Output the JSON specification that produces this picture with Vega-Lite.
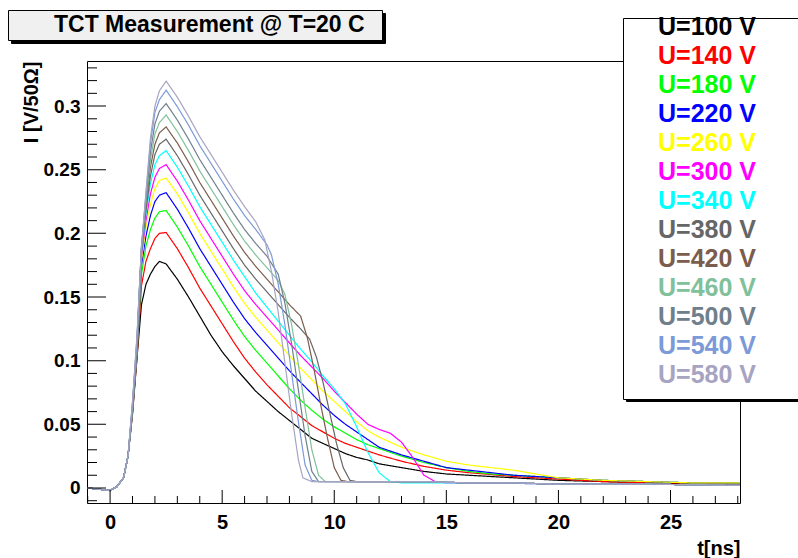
{
"$schema":"https://vega.github.io/schema/vega-lite/v6.json",
"width":653,"height":442,
"autosize":{"type":"none"},
"padding":{"left":87,"top":61,"right":58,"bottom":55},
"background":"white",
"config":{"view":{"stroke":"black","strokeWidth":1},"font":"Liberation Sans"},
"data":{"values":[
{"V":100,"t":-1,"I":0},{"V":100,"t":-0.5,"I":-0.001},{"V":100,"t":0,"I":-0.002},{"V":100,"t":0.3,"I":0.001},{"V":100,"t":0.6,"I":0.008},{"V":100,"t":0.8,"I":0.025},{"V":100,"t":1,"I":0.058},{"V":100,"t":1.2,"I":0.102},{"V":100,"t":1.4,"I":0.144},{"V":100,"t":1.6,"I":0.16},{"V":100,"t":1.8,"I":0.168},{"V":100,"t":2,"I":0.174},{"V":100,"t":2.2,"I":0.178},{"V":100,"t":2.5,"I":0.176},{"V":100,"t":3,"I":0.164},{"V":100,"t":3.5,"I":0.15},{"V":100,"t":4,"I":0.135},{"V":100,"t":4.5,"I":0.12},{"V":100,"t":5,"I":0.107},{"V":100,"t":5.5,"I":0.096},{"V":100,"t":6,"I":0.086},{"V":100,"t":6.5,"I":0.076},{"V":100,"t":7,"I":0.068},{"V":100,"t":7.5,"I":0.06},{"V":100,"t":8,"I":0.053},{"V":100,"t":8.5,"I":0.046},{"V":100,"t":9,"I":0.039},{"V":100,"t":9.5,"I":0.035},{"V":100,"t":10,"I":0.031},{"V":100,"t":10.5,"I":0.027},{"V":100,"t":11,"I":0.024},{"V":100,"t":11.5,"I":0.022},{"V":100,"t":12,"I":0.019},{"V":100,"t":13,"I":0.016},{"V":100,"t":14,"I":0.013},{"V":100,"t":15,"I":0.011},{"V":100,"t":16,"I":0.01},{"V":100,"t":18,"I":0.008},{"V":100,"t":20,"I":0.006},{"V":100,"t":22,"I":0.005},{"V":100,"t":24,"I":0.004},{"V":100,"t":26,"I":0.003},{"V":100,"t":28.1,"I":0.003},
{"V":140,"t":-1,"I":0},{"V":140,"t":-0.5,"I":-0.001},{"V":140,"t":0,"I":-0.002},{"V":140,"t":0.3,"I":0.001},{"V":140,"t":0.6,"I":0.008},{"V":140,"t":0.8,"I":0.025},{"V":140,"t":1,"I":0.059},{"V":140,"t":1.2,"I":0.103},{"V":140,"t":1.4,"I":0.159},{"V":140,"t":1.6,"I":0.178},{"V":140,"t":1.8,"I":0.188},{"V":140,"t":2,"I":0.196},{"V":140,"t":2.2,"I":0.2},{"V":140,"t":2.5,"I":0.2007},{"V":140,"t":3,"I":0.188},{"V":140,"t":3.5,"I":0.173},{"V":140,"t":4,"I":0.157},{"V":140,"t":4.5,"I":0.143},{"V":140,"t":5,"I":0.129},{"V":140,"t":5.5,"I":0.115},{"V":140,"t":6,"I":0.102},{"V":140,"t":6.5,"I":0.091},{"V":140,"t":7,"I":0.081},{"V":140,"t":7.5,"I":0.072},{"V":140,"t":8,"I":0.063},{"V":140,"t":8.5,"I":0.056},{"V":140,"t":9,"I":0.049},{"V":140,"t":9.5,"I":0.044},{"V":140,"t":10,"I":0.039},{"V":140,"t":10.5,"I":0.035},{"V":140,"t":11,"I":0.032},{"V":140,"t":11.5,"I":0.029},{"V":140,"t":12,"I":0.026},{"V":140,"t":13,"I":0.021},{"V":140,"t":14,"I":0.017},{"V":140,"t":15,"I":0.014},{"V":140,"t":16,"I":0.012},{"V":140,"t":18,"I":0.009},{"V":140,"t":20,"I":0.007},{"V":140,"t":22,"I":0.005},{"V":140,"t":24,"I":0.004},{"V":140,"t":26,"I":0.004},{"V":140,"t":28.1,"I":0.003},
{"V":180,"t":-1,"I":0},{"V":180,"t":-0.5,"I":-0.001},{"V":180,"t":0,"I":-0.002},{"V":180,"t":0.3,"I":0.001},{"V":180,"t":0.6,"I":0.008},{"V":180,"t":0.8,"I":0.025},{"V":180,"t":1,"I":0.06},{"V":180,"t":1.2,"I":0.105},{"V":180,"t":1.4,"I":0.168},{"V":180,"t":1.6,"I":0.19},{"V":180,"t":1.8,"I":0.203},{"V":180,"t":2,"I":0.212},{"V":180,"t":2.2,"I":0.217},{"V":180,"t":2.5,"I":0.218},{"V":180,"t":3,"I":0.205},{"V":180,"t":3.5,"I":0.19},{"V":180,"t":4,"I":0.174},{"V":180,"t":4.5,"I":0.16},{"V":180,"t":5,"I":0.146},{"V":180,"t":5.5,"I":0.132},{"V":180,"t":6,"I":0.119},{"V":180,"t":6.5,"I":0.108},{"V":180,"t":7,"I":0.098},{"V":180,"t":7.5,"I":0.088},{"V":180,"t":8,"I":0.078},{"V":180,"t":8.5,"I":0.069},{"V":180,"t":9,"I":0.061},{"V":180,"t":9.5,"I":0.054},{"V":180,"t":10,"I":0.048},{"V":180,"t":10.5,"I":0.043},{"V":180,"t":11,"I":0.038},{"V":180,"t":11.5,"I":0.034},{"V":180,"t":12,"I":0.031},{"V":180,"t":13,"I":0.025},{"V":180,"t":14,"I":0.02},{"V":180,"t":15,"I":0.016},{"V":180,"t":16,"I":0.013},{"V":180,"t":17,"I":0.011},{"V":180,"t":18,"I":0.01},{"V":180,"t":20,"I":0.008},{"V":180,"t":22,"I":0.006},{"V":180,"t":24,"I":0.005},{"V":180,"t":26,"I":0.004},{"V":180,"t":28.1,"I":0.004},
{"V":220,"t":-1,"I":0},{"V":220,"t":-0.5,"I":-0.001},{"V":220,"t":0,"I":-0.002},{"V":220,"t":0.3,"I":0.001},{"V":220,"t":0.6,"I":0.008},{"V":220,"t":0.8,"I":0.025},{"V":220,"t":1,"I":0.06},{"V":220,"t":1.2,"I":0.106},{"V":220,"t":1.4,"I":0.175},{"V":220,"t":1.6,"I":0.198},{"V":220,"t":1.8,"I":0.214},{"V":220,"t":2,"I":0.225},{"V":220,"t":2.2,"I":0.23},{"V":220,"t":2.5,"I":0.232},{"V":220,"t":3,"I":0.219},{"V":220,"t":3.5,"I":0.204},{"V":220,"t":4,"I":0.188},{"V":220,"t":4.5,"I":0.174},{"V":220,"t":5,"I":0.16},{"V":220,"t":5.5,"I":0.146},{"V":220,"t":6,"I":0.133},{"V":220,"t":6.5,"I":0.122},{"V":220,"t":7,"I":0.112},{"V":220,"t":7.5,"I":0.102},{"V":220,"t":8,"I":0.092},{"V":220,"t":8.5,"I":0.083},{"V":220,"t":9,"I":0.074},{"V":220,"t":9.5,"I":0.065},{"V":220,"t":10,"I":0.057},{"V":220,"t":10.5,"I":0.05},{"V":220,"t":11,"I":0.044},{"V":220,"t":11.5,"I":0.038},{"V":220,"t":12,"I":0.032},{"V":220,"t":12.5,"I":0.029},{"V":220,"t":13,"I":0.026},{"V":220,"t":14,"I":0.021},{"V":220,"t":15,"I":0.016},{"V":220,"t":16,"I":0.014},{"V":220,"t":17,"I":0.012},{"V":220,"t":18,"I":0.01},{"V":220,"t":20,"I":0.008},{"V":220,"t":22,"I":0.006},{"V":220,"t":24,"I":0.005},{"V":220,"t":26,"I":0.004},{"V":220,"t":28.1,"I":0.004},
{"V":260,"t":-1,"I":0},{"V":260,"t":-0.5,"I":-0.001},{"V":260,"t":0,"I":-0.002},{"V":260,"t":0.3,"I":0.001},{"V":260,"t":0.6,"I":0.008},{"V":260,"t":0.8,"I":0.025},{"V":260,"t":1,"I":0.061},{"V":260,"t":1.2,"I":0.108},{"V":260,"t":1.4,"I":0.179},{"V":260,"t":1.6,"I":0.205},{"V":260,"t":1.8,"I":0.223},{"V":260,"t":2,"I":0.235},{"V":260,"t":2.2,"I":0.2415},{"V":260,"t":2.5,"I":0.2435},{"V":260,"t":3,"I":0.231},{"V":260,"t":3.5,"I":0.216},{"V":260,"t":4,"I":0.2},{"V":260,"t":4.5,"I":0.186},{"V":260,"t":5,"I":0.172},{"V":260,"t":5.5,"I":0.158},{"V":260,"t":6,"I":0.145},{"V":260,"t":6.5,"I":0.134},{"V":260,"t":7,"I":0.124},{"V":260,"t":7.5,"I":0.114},{"V":260,"t":8,"I":0.104},{"V":260,"t":8.5,"I":0.094},{"V":260,"t":9,"I":0.085},{"V":260,"t":9.5,"I":0.076},{"V":260,"t":10,"I":0.068},{"V":260,"t":10.5,"I":0.06},{"V":260,"t":11,"I":0.052},{"V":260,"t":11.5,"I":0.045},{"V":260,"t":12,"I":0.04},{"V":260,"t":12.5,"I":0.036},{"V":260,"t":13,"I":0.032},{"V":260,"t":14,"I":0.026},{"V":260,"t":15,"I":0.021},{"V":260,"t":16,"I":0.018},{"V":260,"t":17,"I":0.016},{"V":260,"t":18,"I":0.014},{"V":260,"t":19,"I":0.011},{"V":260,"t":20,"I":0.008},{"V":260,"t":22,"I":0.006},{"V":260,"t":24,"I":0.005},{"V":260,"t":26,"I":0.004},{"V":260,"t":28.1,"I":0.004},
{"V":300,"t":-1,"I":0},{"V":300,"t":-0.5,"I":-0.001},{"V":300,"t":0,"I":-0.002},{"V":300,"t":0.3,"I":0.001},{"V":300,"t":0.6,"I":0.008},{"V":300,"t":0.8,"I":0.025},{"V":300,"t":1,"I":0.062},{"V":300,"t":1.2,"I":0.109},{"V":300,"t":1.4,"I":0.182},{"V":300,"t":1.6,"I":0.21},{"V":300,"t":1.8,"I":0.231},{"V":300,"t":2,"I":0.244},{"V":300,"t":2.2,"I":0.251},{"V":300,"t":2.5,"I":0.254},{"V":300,"t":3,"I":0.241},{"V":300,"t":3.5,"I":0.226},{"V":300,"t":4,"I":0.21},{"V":300,"t":4.5,"I":0.196},{"V":300,"t":5,"I":0.182},{"V":300,"t":5.5,"I":0.168},{"V":300,"t":6,"I":0.155},{"V":300,"t":6.5,"I":0.144},{"V":300,"t":7,"I":0.134},{"V":300,"t":7.5,"I":0.124},{"V":300,"t":8,"I":0.114},{"V":300,"t":8.5,"I":0.104},{"V":300,"t":9,"I":0.095},{"V":300,"t":9.5,"I":0.086},{"V":300,"t":10,"I":0.076},{"V":300,"t":10.5,"I":0.067},{"V":300,"t":11,"I":0.058},{"V":300,"t":11.5,"I":0.05},{"V":300,"t":12,"I":0.046},{"V":300,"t":12.5,"I":0.043},{"V":300,"t":13,"I":0.036},{"V":300,"t":13.5,"I":0.024},{"V":300,"t":14,"I":0.01},{"V":300,"t":14.5,"I":0.005},{"V":300,"t":15,"I":0.004},{"V":300,"t":17,"I":0.004},{"V":300,"t":20,"I":0.003},{"V":300,"t":24,"I":0.003},{"V":300,"t":28.1,"I":0.002},
{"V":340,"t":-1,"I":0},{"V":340,"t":-0.5,"I":-0.001},{"V":340,"t":0,"I":-0.002},{"V":340,"t":0.3,"I":0.001},{"V":340,"t":0.6,"I":0.008},{"V":340,"t":0.8,"I":0.025},{"V":340,"t":1,"I":0.063},{"V":340,"t":1.2,"I":0.111},{"V":340,"t":1.4,"I":0.185},{"V":340,"t":1.6,"I":0.215},{"V":340,"t":1.8,"I":0.239},{"V":340,"t":2,"I":0.254},{"V":340,"t":2.2,"I":0.261},{"V":340,"t":2.5,"I":0.265},{"V":340,"t":3,"I":0.252},{"V":340,"t":3.5,"I":0.237},{"V":340,"t":4,"I":0.221},{"V":340,"t":4.5,"I":0.207},{"V":340,"t":5,"I":0.193},{"V":340,"t":5.5,"I":0.179},{"V":340,"t":6,"I":0.166},{"V":340,"t":6.5,"I":0.153},{"V":340,"t":7,"I":0.142},{"V":340,"t":7.5,"I":0.131},{"V":340,"t":8,"I":0.12},{"V":340,"t":8.5,"I":0.109},{"V":340,"t":9,"I":0.099},{"V":340,"t":9.5,"I":0.088},{"V":340,"t":10,"I":0.078},{"V":340,"t":10.5,"I":0.066},{"V":340,"t":11,"I":0.048},{"V":340,"t":11.5,"I":0.028},{"V":340,"t":12,"I":0.012},{"V":340,"t":12.5,"I":0.005},{"V":340,"t":13,"I":0.004},{"V":340,"t":15,"I":0.004},{"V":340,"t":17,"I":0.004},{"V":340,"t":20,"I":0.003},{"V":340,"t":24,"I":0.003},{"V":340,"t":28.1,"I":0.002},
{"V":380,"t":-1,"I":0},{"V":380,"t":-0.5,"I":-0.001},{"V":380,"t":0,"I":-0.002},{"V":380,"t":0.3,"I":0.001},{"V":380,"t":0.6,"I":0.008},{"V":380,"t":0.8,"I":0.025},{"V":380,"t":1,"I":0.063},{"V":380,"t":1.2,"I":0.112},{"V":380,"t":1.4,"I":0.187},{"V":380,"t":1.6,"I":0.218},{"V":380,"t":1.8,"I":0.245},{"V":380,"t":2,"I":0.262},{"V":380,"t":2.2,"I":0.27},{"V":380,"t":2.5,"I":0.274},{"V":380,"t":3,"I":0.261},{"V":380,"t":3.5,"I":0.246},{"V":380,"t":4,"I":0.23},{"V":380,"t":4.5,"I":0.216},{"V":380,"t":5,"I":0.202},{"V":380,"t":5.5,"I":0.188},{"V":380,"t":6,"I":0.175},{"V":380,"t":6.5,"I":0.164},{"V":380,"t":7,"I":0.154},{"V":380,"t":7.5,"I":0.144},{"V":380,"t":8,"I":0.134},{"V":380,"t":8.5,"I":0.125},{"V":380,"t":8.9,"I":0.117},{"V":380,"t":9.2,"I":0.103},{"V":380,"t":9.5,"I":0.083},{"V":380,"t":9.8,"I":0.059},{"V":380,"t":10.1,"I":0.035},{"V":380,"t":10.4,"I":0.016},{"V":380,"t":10.7,"I":0.006},{"V":380,"t":11,"I":0.005},{"V":380,"t":12,"I":0.005},{"V":380,"t":14,"I":0.005},{"V":380,"t":16,"I":0.004},{"V":380,"t":18,"I":0.004},{"V":380,"t":20,"I":0.003},{"V":380,"t":24,"I":0.003},{"V":380,"t":28.1,"I":0.002},
{"V":420,"t":-1,"I":0},{"V":420,"t":-0.5,"I":-0.001},{"V":420,"t":0,"I":-0.002},{"V":420,"t":0.3,"I":0.001},{"V":420,"t":0.6,"I":0.008},{"V":420,"t":0.8,"I":0.025},{"V":420,"t":1,"I":0.064},{"V":420,"t":1.2,"I":0.114},{"V":420,"t":1.4,"I":0.188},{"V":420,"t":1.6,"I":0.222},{"V":420,"t":1.8,"I":0.252},{"V":420,"t":2,"I":0.27},{"V":420,"t":2.2,"I":0.279},{"V":420,"t":2.5,"I":0.2836},{"V":420,"t":3,"I":0.271},{"V":420,"t":3.5,"I":0.256},{"V":420,"t":4,"I":0.24},{"V":420,"t":4.5,"I":0.226},{"V":420,"t":5,"I":0.212},{"V":420,"t":5.5,"I":0.198},{"V":420,"t":6,"I":0.185},{"V":420,"t":6.5,"I":0.174},{"V":420,"t":7,"I":0.164},{"V":420,"t":7.5,"I":0.154},{"V":420,"t":8,"I":0.144},{"V":420,"t":8.5,"I":0.135},{"V":420,"t":8.8,"I":0.118},{"V":420,"t":9.1,"I":0.093},{"V":420,"t":9.4,"I":0.065},{"V":420,"t":9.7,"I":0.039},{"V":420,"t":10,"I":0.016},{"V":420,"t":10.3,"I":0.006},{"V":420,"t":10.6,"I":0.005},{"V":420,"t":12,"I":0.005},{"V":420,"t":14,"I":0.005},{"V":420,"t":16,"I":0.004},{"V":420,"t":18,"I":0.004},{"V":420,"t":20,"I":0.003},{"V":420,"t":24,"I":0.003},{"V":420,"t":28.1,"I":0.002},
{"V":460,"t":-1,"I":0},{"V":460,"t":-0.5,"I":-0.001},{"V":460,"t":0,"I":-0.002},{"V":460,"t":0.3,"I":0.001},{"V":460,"t":0.6,"I":0.008},{"V":460,"t":0.8,"I":0.025},{"V":460,"t":1,"I":0.065},{"V":460,"t":1.2,"I":0.115},{"V":460,"t":1.4,"I":0.189},{"V":460,"t":1.6,"I":0.225},{"V":460,"t":1.8,"I":0.258},{"V":460,"t":2,"I":0.278},{"V":460,"t":2.2,"I":0.287},{"V":460,"t":2.5,"I":0.293},{"V":460,"t":3,"I":0.28},{"V":460,"t":3.5,"I":0.265},{"V":460,"t":4,"I":0.249},{"V":460,"t":4.5,"I":0.235},{"V":460,"t":5,"I":0.221},{"V":460,"t":5.5,"I":0.207},{"V":460,"t":6,"I":0.194},{"V":460,"t":6.5,"I":0.183},{"V":460,"t":7,"I":0.173},{"V":460,"t":7.5,"I":0.163},{"V":460,"t":7.8,"I":0.152},{"V":460,"t":8.1,"I":0.128},{"V":460,"t":8.4,"I":0.097},{"V":460,"t":8.7,"I":0.063},{"V":460,"t":9,"I":0.03},{"V":460,"t":9.3,"I":0.01},{"V":460,"t":9.6,"I":0.005},{"V":460,"t":12,"I":0.005},{"V":460,"t":14,"I":0.005},{"V":460,"t":16,"I":0.004},{"V":460,"t":18,"I":0.004},{"V":460,"t":20,"I":0.003},{"V":460,"t":24,"I":0.003},{"V":460,"t":28.1,"I":0.002},
{"V":500,"t":-1,"I":0},{"V":500,"t":-0.5,"I":-0.001},{"V":500,"t":0,"I":-0.002},{"V":500,"t":0.3,"I":0.001},{"V":500,"t":0.6,"I":0.008},{"V":500,"t":0.8,"I":0.025},{"V":500,"t":1,"I":0.066},{"V":500,"t":1.2,"I":0.117},{"V":500,"t":1.4,"I":0.189},{"V":500,"t":1.6,"I":0.228},{"V":500,"t":1.8,"I":0.264},{"V":500,"t":2,"I":0.286},{"V":500,"t":2.2,"I":0.296},{"V":500,"t":2.5,"I":0.302},{"V":500,"t":3,"I":0.289},{"V":500,"t":3.5,"I":0.274},{"V":500,"t":4,"I":0.258},{"V":500,"t":4.5,"I":0.244},{"V":500,"t":5,"I":0.23},{"V":500,"t":5.5,"I":0.216},{"V":500,"t":6,"I":0.203},{"V":500,"t":6.5,"I":0.192},{"V":500,"t":7,"I":0.182},{"V":500,"t":7.5,"I":0.168},{"V":500,"t":7.8,"I":0.145},{"V":500,"t":8.1,"I":0.113},{"V":500,"t":8.4,"I":0.077},{"V":500,"t":8.7,"I":0.041},{"V":500,"t":9,"I":0.013},{"V":500,"t":9.3,"I":0.005},{"V":500,"t":12,"I":0.005},{"V":500,"t":14,"I":0.005},{"V":500,"t":16,"I":0.004},{"V":500,"t":18,"I":0.004},{"V":500,"t":20,"I":0.003},{"V":500,"t":24,"I":0.003},{"V":500,"t":28.1,"I":0.002},
{"V":540,"t":-1,"I":0},{"V":540,"t":-0.5,"I":-0.001},{"V":540,"t":0,"I":-0.002},{"V":540,"t":0.3,"I":0.001},{"V":540,"t":0.6,"I":0.008},{"V":540,"t":0.8,"I":0.025},{"V":540,"t":1,"I":0.067},{"V":540,"t":1.2,"I":0.118},{"V":540,"t":1.4,"I":0.19},{"V":540,"t":1.6,"I":0.231},{"V":540,"t":1.8,"I":0.271},{"V":540,"t":2,"I":0.295},{"V":540,"t":2.2,"I":0.305},{"V":540,"t":2.5,"I":0.3125},{"V":540,"t":3,"I":0.2995},{"V":540,"t":3.5,"I":0.285},{"V":540,"t":4,"I":0.269},{"V":540,"t":4.5,"I":0.255},{"V":540,"t":5,"I":0.241},{"V":540,"t":5.5,"I":0.227},{"V":540,"t":6,"I":0.214},{"V":540,"t":6.5,"I":0.203},{"V":540,"t":7,"I":0.191},{"V":540,"t":7.2,"I":0.183},{"V":540,"t":7.5,"I":0.16},{"V":540,"t":7.8,"I":0.128},{"V":540,"t":8.1,"I":0.09},{"V":540,"t":8.4,"I":0.052},{"V":540,"t":8.7,"I":0.018},{"V":540,"t":9,"I":0.006},{"V":540,"t":9.3,"I":0.005},{"V":540,"t":12,"I":0.005},{"V":540,"t":14,"I":0.005},{"V":540,"t":16,"I":0.004},{"V":540,"t":18,"I":0.004},{"V":540,"t":20,"I":0.003},{"V":540,"t":24,"I":0.003},{"V":540,"t":28.1,"I":0.002},
{"V":580,"t":-1,"I":0},{"V":580,"t":-0.5,"I":-0.001},{"V":580,"t":0,"I":-0.002},{"V":580,"t":0.3,"I":0.001},{"V":580,"t":0.6,"I":0.008},{"V":580,"t":0.8,"I":0.025},{"V":580,"t":1,"I":0.068},{"V":580,"t":1.2,"I":0.12},{"V":580,"t":1.4,"I":0.189},{"V":580,"t":1.6,"I":0.232},{"V":580,"t":1.8,"I":0.275},{"V":580,"t":2,"I":0.3},{"V":580,"t":2.2,"I":0.312},{"V":580,"t":2.5,"I":0.3196},{"V":580,"t":3,"I":0.307},{"V":580,"t":3.5,"I":0.292},{"V":580,"t":4,"I":0.276},{"V":580,"t":4.5,"I":0.262},{"V":580,"t":5,"I":0.248},{"V":580,"t":5.5,"I":0.234},{"V":580,"t":6,"I":0.221},{"V":580,"t":6.5,"I":0.209},{"V":580,"t":6.9,"I":0.195},{"V":580,"t":7.2,"I":0.17},{"V":580,"t":7.5,"I":0.138},{"V":580,"t":7.8,"I":0.098},{"V":580,"t":8.1,"I":0.058},{"V":580,"t":8.4,"I":0.022},{"V":580,"t":8.6,"I":0.008},{"V":580,"t":9,"I":0.005},{"V":580,"t":12,"I":0.005},{"V":580,"t":14,"I":0.005},{"V":580,"t":16,"I":0.004},{"V":580,"t":18,"I":0.004},{"V":580,"t":20,"I":0.003},{"V":580,"t":24,"I":0.003},{"V":580,"t":28.1,"I":0.002}
]},
"layer":[
{"mark":{"type":"line","strokeWidth":1.2,"clip":true},
"encoding":{
"x":{"field":"t","type":"quantitative","scale":{"domain":[-1.03,28.1],"nice":false,"zero":false},
"axis":{"orient":"bottom","values":[0,5,10,15,20,25],"format":"d","labelOverlap":false,"labelFlush":false,
"labelFontSize":20,"labelFontWeight":"bold","labelColor":"black","labelFont":"Liberation Sans","labelPadding":9,
"domain":false,"ticks":false,"grid":false,
"title":"t[ns]","titleAnchor":"end","titleFontSize":20,"titleFontWeight":"bold","titleColor":"black","titleFont":"Liberation Sans","titlePadding":6}},
"y":{"field":"I","type":"quantitative","scale":{"domain":[-0.0118,0.3354],"nice":false,"zero":false},
"axis":{"orient":"left","values":[0,0.05,0.1,0.15,0.2,0.25,0.3],
"labelExpr":"format(datum.value,'.2~f')","labelOverlap":false,"labelFlush":false,
"labelFontSize":19,"labelFontWeight":"bold","labelColor":"black","labelFont":"Liberation Sans","labelPadding":7,
"domain":false,"ticks":false,"grid":false,
"title":"I [V/50Ω]","titleAnchor":"end","titleFontSize":20,"titleFontWeight":"bold","titleColor":"black","titleFont":"Liberation Sans","titlePadding":2}},
"color":{"field":"V","type":"nominal",
"scale":{"domain":[100,140,180,220,260,300,340,380,420,460,500,540,580],"range":["#000000","#ff0000","#00ff00","#0000ff","#ffff00","#ff00ff","#00ffff","#666666","#7c5c4c","#80c19b","#6f808c","#7b9ad8","#a7a4c2"]},
"legend":{"orient":"none","legendX":536,"legendY":-43,"zindex":2,"title":"WWWWWWWWWWWWWWWWWWWWWWWWWWWWWWWWWWWWWWWWWWWW","titleOrient":"bottom","titleFontSize":4,"titleFontWeight":"bold","titleOpacity":0,"titlePadding":3,"titleLimit":2000,
"fillColor":"white","strokeColor":"black","padding":4,
"symbolSize":0,"symbolOpacity":0,"symbolStrokeWidth":0,"labelOffset":6,"rowPadding":3,
"labelFontSize":25,"labelFontWeight":"bold","labelFont":"Liberation Sans","labelLimit":1000,"labelBaseline":"alphabetic",
"labelExpr":"'U=' + datum.label + ' V'",
"encode":{"labels":{"update":{"fill":{"scale":"color","field":"value"}}}}}},
"strokeDash":{"field":"V","type":"nominal",
"scale":{"domain":[100,140,180,220,260,300,340,380,420,460,500,540,580,0],"range":[[1,0],[1,0],[1,0],[1,0],[1,0],[1,0],[1,0],[1,0],[1,0],[1,0],[1,0],[1,0],[1,0],[1,0]]},
"legend":{"orient":"none","legendX":539,"legendY":-40,"zindex":1,"values":[100,140,180,220,260,300,340,380,420,460,500,540,580],"title":null,
"fillColor":"black","strokeColor":"black","padding":3,
"symbolSize":0,"symbolOpacity":0,"symbolStrokeWidth":0,"labelOffset":142,"rowPadding":3,
"labelFontSize":25,"labelFontWeight":"bold","labelFont":"Liberation Sans","labelLimit":1000,"labelColor":"black","labelOpacity":0,
"labelExpr":"''"}},
"opacity":{"datum":"TCT Measurement @ T=20 C","type":"nominal","scale":{"range":[1,1]},
"legend":{"orient":"none","legendX":-79,"legendY":-51,"zindex":2,"title":"WWW","titleOrient":"right","titleFontSize":4,"titleFontWeight":"bold","titleOpacity":0,"titlePadding":2,"titleLimit":2000,
"fillColor":"#f0f0f0","strokeColor":"black","padding":3,
"symbolSize":0,"symbolOpacity":0,"symbolStrokeWidth":0,"labelOffset":20,
"labelFontSize":23,"labelFontWeight":"bold","labelFont":"Liberation Sans","labelColor":"black","labelLimit":1000}},
"strokeWidth":{"datum":"shadow","type":"nominal","scale":{"range":[1.2,1.2]},
"legend":{"orient":"none","legendX":-76,"legendY":-48,"zindex":1,"title":null,
"fillColor":"black","strokeColor":"black","padding":3,
"symbolSize":0,"symbolOpacity":0,"symbolStrokeWidth":0,"labelOffset":345,
"labelFontSize":23,"labelFontWeight":"bold","labelFont":"Liberation Sans","labelColor":"black","labelOpacity":0,"labelLimit":1000,
"labelExpr":"''"}}
}},
{"data":{"values":[{"v":0},{"v":0.05},{"v":0.1},{"v":0.15},{"v":0.2},{"v":0.25},{"v":0.3}]},
"mark":{"type":"tick","orient":"horizontal","size":38,"thickness":1,"color":"black","opacity":1,"clip":true},
"encoding":{"y":{"field":"v","type":"quantitative","axis":null},"x":{"datum":-1.03,"type":"quantitative","axis":null}}},
{"data":{"values":[{"v":-0.01},{"v":0.01},{"v":0.02},{"v":0.03},{"v":0.04},{"v":0.06},{"v":0.07},{"v":0.08},{"v":0.09},{"v":0.11},{"v":0.12},{"v":0.13},{"v":0.14},{"v":0.16},{"v":0.17},{"v":0.18},{"v":0.19},{"v":0.21},{"v":0.22},{"v":0.23},{"v":0.24},{"v":0.26},{"v":0.27},{"v":0.28},{"v":0.29},{"v":0.31},{"v":0.32},{"v":0.33}]},
"mark":{"type":"tick","orient":"horizontal","size":20,"thickness":1,"color":"black","opacity":1,"clip":true},
"encoding":{"y":{"field":"v","type":"quantitative","axis":null},"x":{"datum":-1.03,"type":"quantitative","axis":null}}},
{"data":{"values":[{"v":0},{"v":5},{"v":10},{"v":15},{"v":20},{"v":25}]},
"mark":{"type":"tick","orient":"vertical","size":26,"thickness":1,"color":"black","opacity":1,"clip":true},
"encoding":{"x":{"field":"v","type":"quantitative","axis":null},"y":{"datum":-0.0118,"type":"quantitative","axis":null}}},
{"data":{"values":[{"v":-1},{"v":1},{"v":2},{"v":3},{"v":4},{"v":6},{"v":7},{"v":8},{"v":9},{"v":11},{"v":12},{"v":13},{"v":14},{"v":16},{"v":17},{"v":18},{"v":19},{"v":21},{"v":22},{"v":23},{"v":24},{"v":26},{"v":27},{"v":28}]},
"mark":{"type":"tick","orient":"vertical","size":14,"thickness":1,"color":"black","opacity":1,"clip":true},
"encoding":{"x":{"field":"v","type":"quantitative","axis":null},"y":{"datum":-0.0118,"type":"quantitative","axis":null}}}
],
"resolve":{"axis":{"x":"independent","y":"independent"}}
}
